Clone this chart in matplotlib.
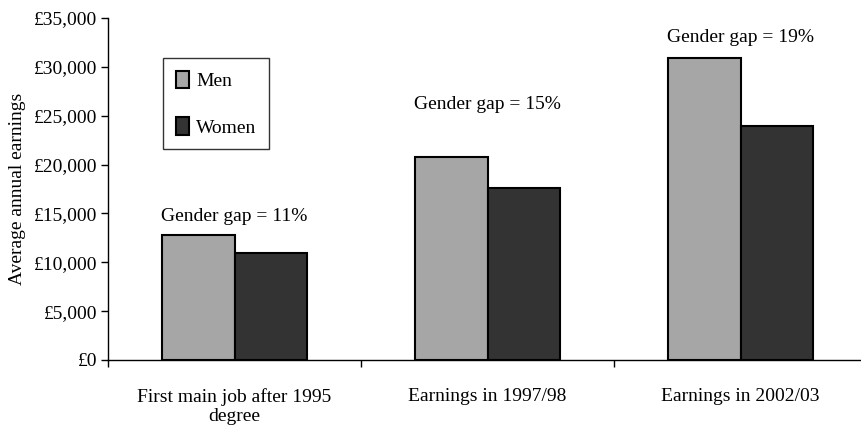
import numpy as np
import matplotlib
matplotlib.use("Agg")
import matplotlib.pyplot as plt
from matplotlib.ticker import FuncFormatter

plt.rc('font', family='Liberation Serif', size=14)

categories = ["First main job after 1995\ndegree", "Earnings in 1997/98", "Earnings in 2002/03"]
men = [12800, 20800, 30900]
women = [11000, 17600, 23900]
gaps = ["Gender gap = 11%", "Gender gap = 15%", "Gender gap = 19%"]

fig = plt.figure(figsize=(8.62, 4.30), dpi=100)
ax = fig.add_axes([0.1253, 0.1628, 0.8805, 0.7953])

x = np.arange(len(categories)) + 0.5
w = 0.285
ax.bar(x - w/2, men, w, color="#a6a6a6", edgecolor="black", linewidth=1.5, label="Men")
ax.bar(x + w/2, women, w, color="#333333", edgecolor="black", linewidth=1.5, label="Women")

# gap labels sit above each group
offsets = [1000, 4500, 1200]
for i in range(len(categories)):
    ax.text(x[i], men[i] + offsets[i], gaps[i], ha="center", va="bottom")

ax.set_xlim(0, 3)
ax.set_ylim(0, 35000)
ax.set_yticks(np.arange(0, 35001, 5000))
ax.yaxis.set_major_formatter(FuncFormatter(lambda v, p: "£{:,.0f}".format(v)))
ax.set_xticks([0, 1, 2, 3])
ax.set_xticklabels([])
ax.set_xticks(x, minor=True)
ax.set_xticklabels(categories, minor=True, linespacing=1.2)
ax.tick_params(axis="x", which="minor", length=0, pad=20)
ax.tick_params(axis="x", which="major", length=5, direction="out", width=1)
ax.tick_params(axis="y", length=5, width=1, pad=3)
ax.spines["top"].set_visible(False)
ax.spines["right"].set_visible(False)
ax.spines["left"].set_linewidth(1)
ax.spines["bottom"].set_linewidth(1)
ax.set_ylabel("Average annual earnings", labelpad=5)

leg = ax.legend(loc="upper left", bbox_to_anchor=(0.0725, 0.883), borderaxespad=0,
                frameon=True, fancybox=False, edgecolor="black", labelspacing=1.4,
                handlelength=0.67, handleheight=1.0, handletextpad=0.4, borderpad=0.65)
leg.get_frame().set_linewidth(1)

plt.savefig("out.png", dpi=100)
